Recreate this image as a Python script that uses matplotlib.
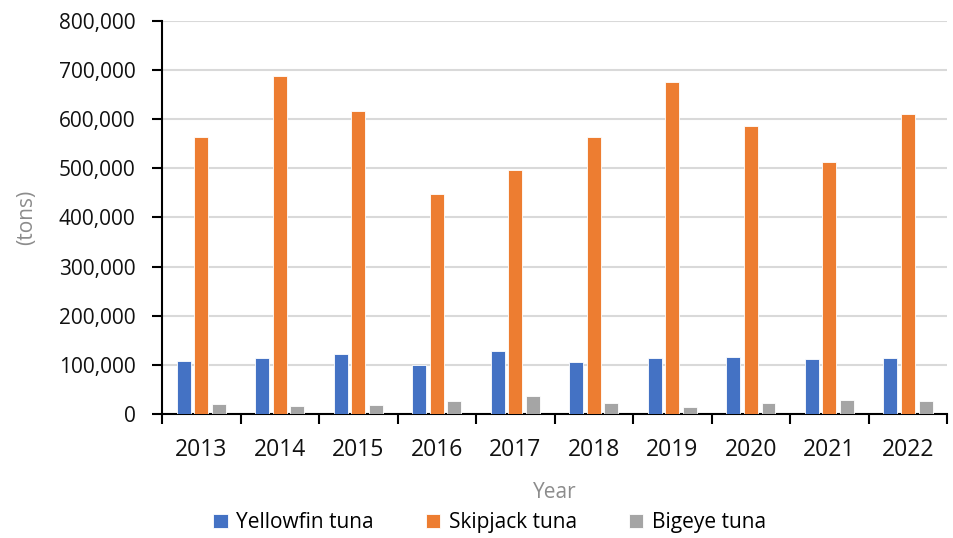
import numpy as np
import matplotlib
matplotlib.use("Agg")
import matplotlib.pyplot as plt
from matplotlib.ticker import FuncFormatter

years = ["2013", "2014", "2015", "2016", "2017", "2018", "2019", "2020", "2021", "2022"]
yellowfin = [108000, 114000, 122000, 100000, 128000, 105000, 114000, 117000, 111000, 114000]
skipjack = [564000, 689000, 616000, 447000, 497000, 564000, 675000, 586000, 513000, 611000]
bigeye = [21000, 17000, 18000, 26000, 37000, 23000, 14000, 23000, 29000, 26000]
series_names = ["Yellowfin tuna", "Skipjack tuna", "Bigeye tuna"]
colors = ["#4472C4", "#ED7D31", "#A5A5A5"]

plt.rcParams['font.family'] = ['Open Sans', 'DejaVu Sans']

fig = plt.figure(figsize=(9.54, 5.38), dpi=100)
ax = fig.add_axes([0.1698, 0.2305, 0.8230, 0.7305])

x = np.arange(len(years))
w = 0.178
step = 0.225
for i, (vals, name, c) in enumerate(zip([yellowfin, skipjack, bigeye], series_names, colors)):
    ax.bar(x + (i - 1) * step, vals, width=w, color=c, edgecolor="white", linewidth=0.6,
           label=name, zorder=3)

ax.set_xlim(-0.5, len(years) - 0.5)
ax.set_ylim(0, 800000)
ax.set_yticks(np.arange(0, 800001, 100000))
ax.yaxis.set_major_formatter(FuncFormatter(lambda v, p: f"{int(v):,}"))
ax.grid(axis="y", color="#D9D9D9", linewidth=1.5, zorder=0)
ax.set_axisbelow(True)

ax.set_xticks(np.arange(len(years) + 1) - 0.5)
ax.set_xticklabels([])
ax.set_xticks(x, minor=True)
ax.set_xticklabels(years, minor=True, fontsize=16.5, color="#111111")
ax.tick_params(axis="x", which="major", length=7, width=1.5, direction="out", color="black")
ax.tick_params(axis="x", which="minor", length=0, pad=17)
ax.tick_params(axis="y", length=7, width=1.5, direction="out", color="black",
               labelsize=15, labelcolor="#111111", pad=12)

for s in ["top", "right"]:
    ax.spines[s].set_visible(False)
for s in ["left", "bottom"]:
    ax.spines[s].set_linewidth(1.5)
    ax.spines[s].set_color("black")

ax.set_xlabel("Year", fontsize=15, color="#8C8C8C", labelpad=15)
ax.set_ylabel("(tons)", fontsize=15, color="#8C8C8C", labelpad=16)

fig.legend(loc="center", bbox_to_anchor=(0.513, 0.028), ncol=3, frameon=False,
           fontsize=15, handlelength=0.7, handleheight=0.7, columnspacing=2.5,
           handletextpad=0.4)

fig.savefig("out.png", dpi=100)
